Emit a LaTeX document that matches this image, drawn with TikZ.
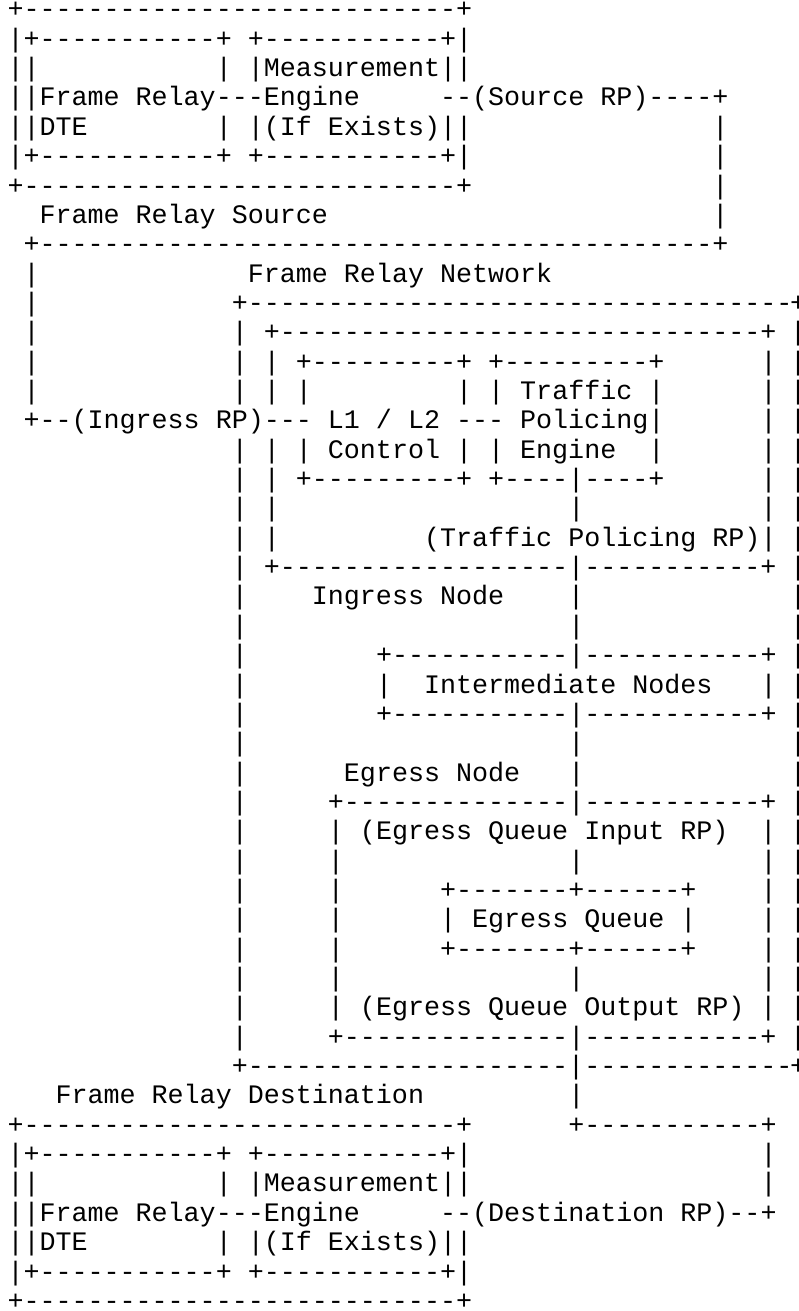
\documentclass[tikz,border=0pt]{standalone}
\usepackage{fontspec}
\setmonofont{Liberation Mono}
\newlength\cw
\setlength\cw{16.0226pt}
\newcommand\Col[2]{\rlap{\hspace*{#1\cw}#2}}
\newcommand\Dsh[1]{\ifnum#1>0 -\expandafter\Dsh\expandafter{\the\numexpr#1-1\relax}\fi}
% right edge column of the network box (cut by the page edge, as in the reference)
\newcommand\Redge[1]{\Col{48.85}{#1}}
\tikzset{ln/.style={anchor=base west, inner sep=0pt, outer sep=0pt, text=black,
  font=\ttfamily\fontsize{26.7pt}{29.35pt}\selectfont}}
\begin{document}
\begin{tikzpicture}
\fill[white] (0,0) rectangle (799pt,-1311pt);
\useasboundingbox (0,0) rectangle (799pt,-1311pt);
\begin{scope}[x=16.0226pt,y=-29.35pt,shift={(7pt,-17.95pt)}]
\node[ln] (l0) at (0,0) {\Col{0}{+\Dsh{27}+}};
\node[ln] (l1) at (0,1) {\Col{0}{|+\Dsh{11}+ +\Dsh{11}+|}};
\node[ln] (l2) at (0,2) {\Col{0}{||}\Col{13}{|}\Col{15}{|Measurement||}};
\node[ln] (l3) at (0,3) {\Col{0}{||Frame Relay\Dsh{3}Engine}\Col{27}{\Dsh{2}(Source RP)\Dsh{4}+}};
\node[ln] (l4) at (0,4) {\Col{0}{||DTE}\Col{13}{| |(If Exists)||}\Col{44}{|}};
\node[ln] (l5) at (0,5) {\Col{0}{|+\Dsh{11}+ +\Dsh{11}+|}\Col{44}{|}};
\node[ln] (l6) at (0,6) {\Col{0}{+\Dsh{27}+}\Col{44}{|}};
\node[ln] (l7) at (0,7) {\Col{2}{Frame Relay Source}\Col{44}{|}};
\node[ln] (l8) at (0,8) {\Col{1}{+\Dsh{42}+}};
\node[ln] (l9) at (0,9) {\Col{1}{|}\Col{15}{Frame Relay Network}};
\node[ln] (l10) at (0,10) {\Col{1}{|}\Col{14}{+\Dsh{34}}\Redge{+}};
\node[ln] (l11) at (0,11) {\Col{1}{|}\Col{14}{| +\Dsh{30}+}\Redge{|}};
\node[ln] (l12) at (0,12) {\Col{1}{|}\Col{14}{| | +\Dsh{9}+ +\Dsh{9}+}\Col{47}{|}\Redge{|}};
\node[ln] (l13) at (0,13) {\Col{1}{|}\Col{14}{| | |}\Col{28}{| | Traffic |}\Col{47}{|}\Redge{|}};
\node[ln] (l14) at (0,14) {\Col{1}{+\Dsh{2}(Ingress RP)\Dsh{3} L1 / L2 \Dsh{3} Policing|}\Col{47}{|}\Redge{|}};
\node[ln] (l15) at (0,15) {\Col{14}{| | | Control | | Engine}\Col{40}{|}\Col{47}{|}\Redge{|}};
\node[ln] (l16) at (0,16) {\Col{14}{| | +\Dsh{9}+ +\Dsh{4}|\Dsh{4}+}\Col{47}{|}\Redge{|}};
\node[ln] (l17) at (0,17) {\Col{14}{| |}\Col{35}{|}\Col{47}{|}\Redge{|}};
\node[ln] (l18) at (0,18) {\Col{14}{| |}\Col{26}{(Traffic Policing RP)|}\Redge{|}};
\node[ln] (l19) at (0,19) {\Col{14}{| +\Dsh{18}|\Dsh{11}+}\Redge{|}};
\node[ln] (l20) at (0,20) {\Col{14}{|}\Col{19}{Ingress Node}\Col{35}{|}\Redge{|}};
\node[ln] (l21) at (0,21) {\Col{14}{|}\Col{35}{|}\Redge{|}};
\node[ln] (l22) at (0,22) {\Col{14}{|}\Col{23}{+\Dsh{11}|\Dsh{11}+}\Redge{|}};
\node[ln] (l23) at (0,23) {\Col{14}{|}\Col{23}{|}\Col{26}{Intermediate Nodes}\Col{47}{|}\Redge{|}};
\node[ln] (l24) at (0,24) {\Col{14}{|}\Col{23}{+\Dsh{11}|\Dsh{11}+}\Redge{|}};
\node[ln] (l25) at (0,25) {\Col{14}{|}\Col{35}{|}\Redge{|}};
\node[ln] (l26) at (0,26) {\Col{14}{|}\Col{21}{Egress Node}\Col{35}{|}\Redge{|}};
\node[ln] (l27) at (0,27) {\Col{14}{|}\Col{20}{+\Dsh{14}|\Dsh{11}+}\Redge{|}};
\node[ln] (l28) at (0,28) {\Col{14}{|}\Col{20}{| (Egress Queue Input RP)}\Col{47}{|}\Redge{|}};
\node[ln] (l29) at (0,29) {\Col{14}{|}\Col{20}{|}\Col{35}{|}\Col{47}{|}\Redge{|}};
\node[ln] (l30) at (0,30) {\Col{14}{|}\Col{20}{|}\Col{27}{+\Dsh{7}+\Dsh{6}+}\Col{47}{|}\Redge{|}};
\node[ln] (l31) at (0,31) {\Col{14}{|}\Col{20}{|}\Col{27}{| Egress Queue |}\Col{47}{|}\Redge{|}};
\node[ln] (l32) at (0,32) {\Col{14}{|}\Col{20}{|}\Col{27}{+\Dsh{7}+\Dsh{6}+}\Col{47}{|}\Redge{|}};
\node[ln] (l33) at (0,33) {\Col{14}{|}\Col{20}{|}\Col{35}{|}\Col{47}{|}\Redge{|}};
\node[ln] (l34) at (0,34) {\Col{14}{|}\Col{20}{| (Egress Queue Output RP) |}\Redge{|}};
\node[ln] (l35) at (0,35) {\Col{14}{|}\Col{20}{+\Dsh{14}|\Dsh{11}+}\Redge{|}};
\node[ln] (l36) at (0,36) {\Col{14}{+\Dsh{20}|\Dsh{13}}\Redge{+}};
\node[ln] (l37) at (0,37) {\Col{3}{Frame Relay Destination}\Col{35}{|}};
\node[ln] (l38) at (0,38) {\Col{0}{+\Dsh{27}+}\Col{35}{+\Dsh{11}+}};
\node[ln] (l39) at (0,39) {\Col{0}{|+\Dsh{11}+ +\Dsh{11}+|}\Col{47}{|}};
\node[ln] (l40) at (0,40) {\Col{0}{||}\Col{13}{|}\Col{15}{|Measurement||}\Col{47}{|}};
\node[ln] (l41) at (0,41) {\Col{0}{||Frame Relay\Dsh{3}Engine}\Col{27}{\Dsh{2}(Destination RP)\Dsh{2}+}};
\node[ln] (l42) at (0,42) {\Col{0}{||DTE}\Col{13}{| |(If Exists)||}};
\node[ln] (l43) at (0,43) {\Col{0}{|+\Dsh{11}+ +\Dsh{11}+|}};
\node[ln] (l44) at (0,44) {\Col{0}{+\Dsh{27}+}};
\end{scope}
\end{tikzpicture}
\end{document}
